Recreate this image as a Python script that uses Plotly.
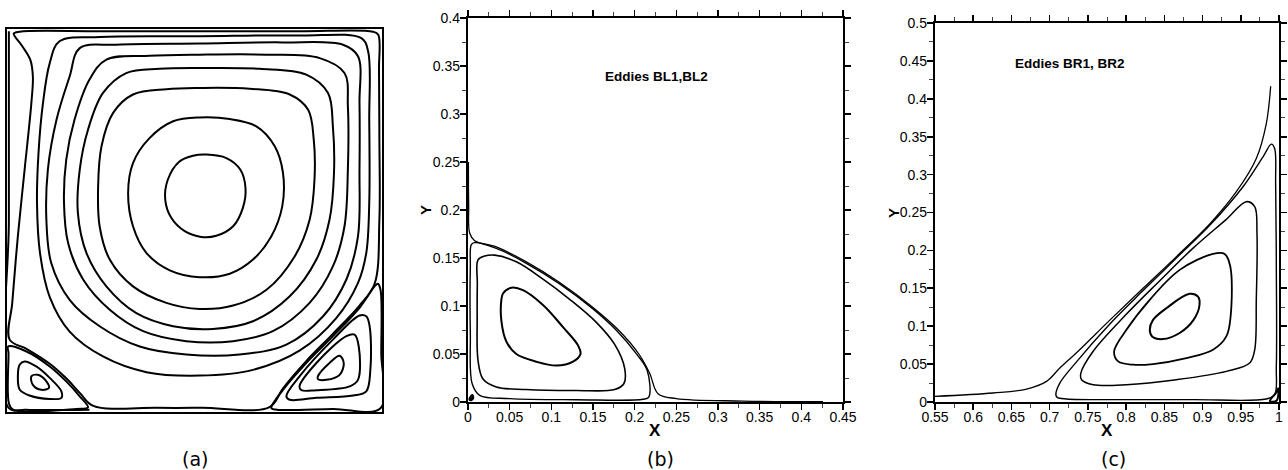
import plotly.graph_objects as go

# ---------------- Panel (a): full cavity streamlines (unit square) ----------------
a_ring1_x = [0.532, 0.585, 0.622, 0.636, 0.629, 0.603, 0.558, 0.518, 0.474, 0.438, 0.422, 0.429, 0.460, 0.496, 0.532]
a_ring1_y = [0.672, 0.663, 0.633, 0.585, 0.533, 0.485, 0.460, 0.457, 0.472, 0.507, 0.554, 0.607, 0.654, 0.669, 0.672]

a_ring2_x = [0.514, 0.594, 0.665, 0.714, 0.736, 0.734, 0.705, 0.656, 0.594, 0.514, 0.434, 0.372, 0.336, 0.323, 0.336, 0.380, 0.443, 0.514]
a_ring2_y = [0.769, 0.765, 0.746, 0.694, 0.624, 0.537, 0.459, 0.398, 0.361, 0.352, 0.370, 0.415, 0.485, 0.572, 0.650, 0.715, 0.759, 0.769]

a_ring3_x = [0.514, 0.647, 0.754, 0.803, 0.818, 0.820, 0.807, 0.767, 0.692, 0.603, 0.514, 0.425, 0.336, 0.274, 0.247, 0.243, 0.252, 0.283, 0.336, 0.425, 0.514]
a_ring3_y = [0.846, 0.844, 0.829, 0.789, 0.711, 0.607, 0.502, 0.406, 0.319, 0.278, 0.269, 0.285, 0.328, 0.398, 0.485, 0.589, 0.694, 0.781, 0.829, 0.843, 0.846]

a_ring4_x = [0.514, 0.674, 0.798, 0.856, 0.869, 0.872, 0.860, 0.825, 0.754, 0.656, 0.549, 0.443, 0.345, 0.265, 0.212, 0.189, 0.194, 0.216, 0.256, 0.318, 0.407, 0.514]
a_ring4_y = [0.898, 0.896, 0.881, 0.833, 0.746, 0.624, 0.502, 0.398, 0.302, 0.237, 0.217, 0.224, 0.258, 0.328, 0.415, 0.520, 0.633, 0.737, 0.833, 0.885, 0.896, 0.898]

a_ring5_x = [0.514, 0.692, 0.834, 0.900, 0.909, 0.909, 0.900, 0.869, 0.807, 0.709, 0.603, 0.478, 0.363, 0.274, 0.203, 0.163, 0.152, 0.158, 0.180, 0.220, 0.265, 0.380, 0.514]
a_ring5_y = [0.933, 0.933, 0.924, 0.885, 0.798, 0.633, 0.485, 0.380, 0.285, 0.211, 0.185, 0.185, 0.211, 0.267, 0.346, 0.441, 0.546, 0.659, 0.763, 0.868, 0.920, 0.930, 0.933]

a_ring6_x = [0.514, 0.736, 0.896, 0.936, 0.940, 0.940, 0.936, 0.905, 0.843, 0.745, 0.620, 0.478, 0.354, 0.247, 0.167, 0.118, 0.105, 0.109, 0.132, 0.167, 0.194, 0.292, 0.514]
a_ring6_y = [0.962, 0.965, 0.959, 0.929, 0.807, 0.633, 0.459, 0.346, 0.250, 0.176, 0.150, 0.150, 0.171, 0.224, 0.293, 0.389, 0.502, 0.633, 0.763, 0.876, 0.950, 0.959, 0.962]

a_ring7_x = [0.514, 0.780, 0.945, 0.963, 0.966, 0.966, 0.958, 0.936, 0.878, 0.780, 0.656, 0.514, 0.372, 0.256, 0.167, 0.114, 0.088, 0.080, 0.084, 0.096, 0.114, 0.140, 0.247, 0.514]
a_ring7_y = [0.981, 0.983, 0.976, 0.942, 0.763, 0.546, 0.415, 0.337, 0.245, 0.160, 0.110, 0.095, 0.104, 0.145, 0.210, 0.300, 0.415, 0.546, 0.676, 0.807, 0.911, 0.968, 0.979, 0.981]

a_outer_x = [0.069, 0.065, 0.047, 0.029, 0.014, 0.007, 0.052, 0.114, 0.158, 0.194, 0.230, 0.400, 0.520, 0.700, 0.736, 0.798, 0.869, 0.940, 0.980, 0.993, 0.993, 0.992, 0.990, 0.976, 0.780, 0.514, 0.247, 0.034, 0.018, 0.038, 0.062, 0.069]
a_outer_y = [0.876, 0.807, 0.633, 0.459, 0.285, 0.189, 0.165, 0.126, 0.088, 0.050, 0.016, 0.011, 0.011, 0.013, 0.062, 0.133, 0.204, 0.278, 0.334, 0.500, 0.720, 0.894, 0.985, 0.993, 0.994, 0.994, 0.994, 0.993, 0.988, 0.959, 0.920, 0.876]

a_wall_x = [0.005, 0.005, 0.005, 0.050, 0.220]
a_wall_y = [0.994, 0.500, 0.010, 0.006, 0.006]

a_bl_sep_x = [0.003, 0.052, 0.114, 0.158, 0.194, 0.216, 0.185, 0.016, 0.005, 0.004, 0.003]
a_bl_sep_y = [0.171, 0.158, 0.119, 0.080, 0.041, 0.012, 0.008, 0.006, 0.023, 0.154, 0.171]

a_bl_loop_x = [0.034, 0.047, 0.078, 0.114, 0.145, 0.145, 0.114, 0.060, 0.034, 0.029, 0.034]
a_bl_loop_y = [0.124, 0.132, 0.119, 0.089, 0.054, 0.037, 0.034, 0.043, 0.058, 0.093, 0.124]

a_bl_core_x = [0.065, 0.082, 0.105, 0.112, 0.092, 0.069, 0.065]
a_bl_core_y = [0.093, 0.097, 0.080, 0.063, 0.058, 0.071, 0.093]

a_br_sep_x = [0.705, 0.736, 0.798, 0.869, 0.940, 0.980, 0.989, 0.996, 0.998, 0.996, 0.869, 0.720, 0.705]
a_br_sep_y = [0.010, 0.058, 0.128, 0.198, 0.272, 0.328, 0.335, 0.319, 0.154, 0.010, 0.008, 0.006, 0.010]

a_br_loop1_x = [0.745, 0.780, 0.869, 0.940, 0.958, 0.967, 0.969, 0.958, 0.923, 0.825, 0.754, 0.745]
a_br_loop1_y = [0.041, 0.093, 0.189, 0.252, 0.250, 0.224, 0.111, 0.054, 0.043, 0.037, 0.032, 0.041]

a_br_loop2_x = [0.780, 0.825, 0.905, 0.927, 0.938, 0.936, 0.914, 0.825, 0.785, 0.780]
a_br_loop2_y = [0.067, 0.128, 0.198, 0.202, 0.171, 0.084, 0.067, 0.057, 0.057, 0.067]

a_br_core_x = [0.829, 0.860, 0.887, 0.898, 0.887, 0.852, 0.829, 0.829]
a_br_core_y = [0.093, 0.128, 0.147, 0.128, 0.097, 0.084, 0.086, 0.093]

# ---------------- Panel (b): bottom-left eddies ----------------
b_core_x = [0.042, 0.052, 0.066, 0.090, 0.114, 0.132, 0.135, 0.126, 0.106, 0.082, 0.058, 0.046, 0.040, 0.040, 0.042]
b_core_y = [0.113, 0.119, 0.1165, 0.101, 0.078, 0.059, 0.050, 0.042, 0.038, 0.042, 0.050, 0.063, 0.085, 0.106, 0.113]

b_mid_x = [0.012, 0.020, 0.032, 0.058, 0.090, 0.122, 0.154, 0.176, 0.188, 0.187, 0.176, 0.130, 0.070, 0.034, 0.018, 0.012, 0.011, 0.0112, 0.012]
b_mid_y = [0.148, 0.152, 0.153, 0.146, 0.128, 0.107, 0.083, 0.060, 0.035, 0.019, 0.013, 0.012, 0.013, 0.0157, 0.024, 0.0435, 0.0887, 0.1235, 0.148]

b_sep_x = [0.004, 0.008, 0.034, 0.070, 0.110, 0.150, 0.178, 0.202, 0.215, 0.217, 0.210, 0.130, 0.050, 0.014, 0.005, 0.0028, 0.0028, 0.004]
b_sep_y = [0.164, 0.166, 0.160, 0.1445, 0.123, 0.097, 0.0748, 0.0504, 0.033, 0.0052, 0.0028, 0.0024, 0.0035, 0.007, 0.019, 0.071, 0.141, 0.164]

b_outer_x = [0.0005, 0.0008, 0.002, 0.008, 0.034, 0.070, 0.110, 0.150, 0.180, 0.205, 0.218, 0.228, 0.250, 0.330, 0.426]
b_outer_y = [0.250, 0.205, 0.176, 0.168, 0.1615, 0.146, 0.1245, 0.0985, 0.0755, 0.050, 0.030, 0.0087, 0.0035, 0.001, 0.0003]

b_tiny_x = [0.002, 0.005, 0.006, 0.003, 0.002]
b_tiny_y = [0.003, 0.007, 0.004, 0.002, 0.003]

# ---------------- Panel (c): bottom-right eddies ----------------
c_core_x = [0.831, 0.835, 0.853, 0.883, 0.894, 0.896, 0.888, 0.870, 0.848, 0.834, 0.831]
c_core_y = [0.0953, 0.108, 0.124, 0.1427, 0.139, 0.128, 0.108, 0.091, 0.083, 0.0865, 0.0953]

c_loop2_x = [0.7843, 0.8004, 0.8309, 0.8701, 0.9137, 0.9289, 0.9363, 0.9367, 0.9311, 0.9137, 0.8789, 0.8353, 0.8092, 0.7896, 0.7843]
c_loop2_y = [0.0667, 0.0952, 0.1348, 0.1743, 0.1954, 0.1954, 0.1787, 0.1128, 0.0865, 0.0689, 0.0579, 0.0501, 0.0492, 0.0536, 0.0667]

c_loop3_x = [0.7408, 0.7569, 0.8005, 0.8440, 0.8876, 0.9311, 0.9573, 0.9682, 0.9712, 0.9703, 0.9682, 0.9616, 0.9311, 0.8658, 0.8005, 0.7569, 0.7417, 0.7408]
c_loop3_y = [0.0382, 0.0670, 0.1160, 0.1600, 0.2030, 0.2410, 0.2643, 0.2577, 0.2226, 0.1348, 0.0689, 0.0514, 0.0404, 0.0294, 0.0228, 0.0228, 0.0294, 0.0382]

c_sep_x = [0.7081, 0.7133, 0.7351, 0.7787, 0.8222, 0.8658, 0.9094, 0.9529, 0.9791, 0.9900, 0.9943, 0.9956, 0.9965, 0.9965, 0.9943, 0.9834, 0.8876, 0.8005, 0.7221, 0.7099, 0.7081]
c_sep_y = [0.0097, 0.0250, 0.0530, 0.1030, 0.1470, 0.1900, 0.2330, 0.2840, 0.3235, 0.3402, 0.3345, 0.2884, 0.1787, 0.0470, 0.0097, 0.0040, 0.0031, 0.0031, 0.0040, 0.0061, 0.0097]

c_outer_x = [0.5500, 0.6262, 0.6698, 0.6959, 0.7133, 0.7351, 0.7787, 0.8222, 0.8658, 0.9094, 0.9442, 0.9703, 0.9834, 0.9891]
c_outer_y = [0.0075, 0.0119, 0.0171, 0.0272, 0.0448, 0.0650, 0.1080, 0.1500, 0.1918, 0.2349, 0.2774, 0.3213, 0.3674, 0.4166]

c_tiny_x = [0.988, 0.996, 0.999, 0.997, 0.988]
c_tiny_y = [0.001, 0.012, 0.018, 0.002, 0.001]

# tick values
b_xticks = [0, 0.05, 0.1, 0.15, 0.2, 0.25, 0.3, 0.35, 0.4, 0.45]
b_yticks = [0, 0.05, 0.1, 0.15, 0.2, 0.25, 0.3, 0.35, 0.4]
c_xticks = [0.55, 0.6, 0.65, 0.7, 0.75, 0.8, 0.85, 0.9, 0.95, 1]
c_yticks = [0, 0.05, 0.1, 0.15, 0.2, 0.25, 0.3, 0.35, 0.4, 0.45, 0.5]

fig = go.Figure()

def add(x, y, xa, ya, w):
    fig.add_trace(go.Scatter(x=x, y=y, xaxis=xa, yaxis=ya, mode="lines",
                             line=dict(color="black", width=w, shape="spline", smoothing=1.0),
                             hoverinfo="skip", showlegend=False))

for xs, ys in [(a_ring1_x, a_ring1_y), (a_ring2_x, a_ring2_y), (a_ring3_x, a_ring3_y),
               (a_ring4_x, a_ring4_y), (a_ring5_x, a_ring5_y), (a_ring6_x, a_ring6_y),
               (a_ring7_x, a_ring7_y),
               (a_outer_x, a_outer_y), (a_wall_x, a_wall_y), (a_bl_sep_x, a_bl_sep_y),
               (a_bl_loop_x, a_bl_loop_y), (a_bl_core_x, a_bl_core_y), (a_br_sep_x, a_br_sep_y),
               (a_br_loop1_x, a_br_loop1_y), (a_br_loop2_x, a_br_loop2_y), (a_br_core_x, a_br_core_y)]:
    add(xs, ys, "x", "y", 2)

add(b_core_x, b_core_y, "x2", "y2", 2)
add(b_mid_x, b_mid_y, "x2", "y2", 1.6)
add(b_sep_x, b_sep_y, "x2", "y2", 1.4)
add(b_outer_x, b_outer_y, "x2", "y2", 1.3)
add(b_tiny_x, b_tiny_y, "x2", "y2", 2.5)

add(c_core_x, c_core_y, "x3", "y3", 2)
add(c_loop2_x, c_loop2_y, "x3", "y3", 1.8)
add(c_loop3_x, c_loop3_y, "x3", "y3", 1.5)
add(c_sep_x, c_sep_y, "x3", "y3", 1.4)
add(c_outer_x, c_outer_y, "x3", "y3", 1.3)
add(c_tiny_x, c_tiny_y, "x3", "y3", 2)

W, H = 1288, 470
def px(v):
    return v / W
def py(v):
    return 1 - v / H

tickfont = dict(family="Liberation Sans, Arial, sans-serif", size=14, color="black")

def axstyle(domain, rng, ticks, standoff):
    return dict(domain=domain, range=rng, tickmode="array", tickvals=ticks,
                showline=True, linewidth=2.2, linecolor="black", mirror="allticks",
                ticks="outside", ticklen=6, tickwidth=1.6, tickcolor="black",
                minor=dict(ticks="outside", ticklen=4, tickwidth=1, tickcolor="#444",
                           dtick=0.025, tick0=0, showgrid=False),
                showgrid=False, zeroline=False, tickfont=tickfont,
                ticklabelstandoff=standoff, fixedrange=True)

fig.update_layout(
    width=W, height=H, margin=dict(l=0, r=0, t=0, b=0, autoexpand=False),
    paper_bgcolor="white", plot_bgcolor="white",
    xaxis=dict(domain=[px(7), px(382)], range=[0, 1], showline=True, mirror=True,
               linewidth=2, linecolor="black", showticklabels=False, ticks="",
               showgrid=False, zeroline=False, anchor="y", fixedrange=True),
    yaxis=dict(domain=[py(412), py(29)], range=[0, 1], showline=True, mirror=True,
               linewidth=2, linecolor="black", showticklabels=False, ticks="",
               showgrid=False, zeroline=False, anchor="x", fixedrange=True),
    xaxis2=dict(axstyle([px(468), px(843)], [0, 0.45], b_xticks, -5), anchor="y2"),
    yaxis2=dict(axstyle([py(402), py(18)], [0, 0.4], b_yticks, -3), anchor="x2"),
    xaxis3=dict(axstyle([px(935), px(1279)], [0.55, 1.0], c_xticks, -5), anchor="y3"),
    yaxis3=dict(axstyle([py(402), py(23)], [0, 0.5], c_yticks, -3), anchor="x3"),
)

bold = dict(family="Liberation Sans, Arial, sans-serif", color="black")
cap = dict(size=19, family="DejaVu Sans, Verdana, sans-serif", color="black")
anns = [
    dict(text="<b>Eddies BL1,BL2</b>", x=px(657), y=py(77), font=dict(size=13.5, **bold)),
    dict(text="<b>Eddies BR1, BR2</b>", x=px(1070), y=py(63), font=dict(size=13.5, **bold)),
    dict(text="<b>X</b>", x=px(655), y=py(430), font=dict(size=17, **bold)),
    dict(text="<b>X</b>", x=px(1107), y=py(430), font=dict(size=17, **bold)),
    dict(text="<b>Y</b>", x=px(425), y=py(210), font=dict(size=15, **bold), textangle=-90),
    dict(text="<b>Y</b>", x=px(893), y=py(213), font=dict(size=15, **bold), textangle=-90),
    dict(text="(a)", x=px(195), y=py(459), font=cap),
    dict(text="(b)", x=px(660), y=py(459), font=cap),
    dict(text="(c)", x=px(1113), y=py(459), font=cap),
]
for a in anns:
    fig.add_annotation(xref="paper", yref="paper", showarrow=False, xanchor="center", yanchor="middle", **a)

fig.write_html("out.html", config={"displayModeBar": False, "staticPlot": True},
               post_script="document.body.style.margin='0px';")
